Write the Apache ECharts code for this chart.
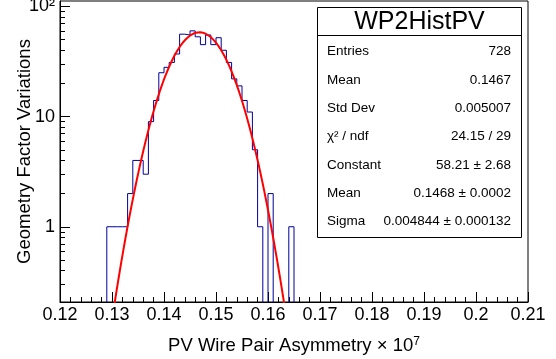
<!DOCTYPE html>
<html><head><meta charset="utf-8">
<script src="https://cdn.jsdelivr.net/npm/echarts@6/dist/echarts.min.js"></script>
<style>html,body{margin:0;padding:0;background:#fff}#c{width:556px;height:359px}</style>
</head><body><div id="c"></div>
<script>
// ---- data ----
const binLowEdges = [0.129,0.130,0.131,0.132,0.133,0.134,0.135,0.136,0.137,0.138,0.139,0.140,0.141,0.142,0.143,0.144,0.145,0.146,0.147,0.148,0.149,0.150,0.151,0.152,0.153,0.154,0.155,0.156,0.157,0.158,0.159,0.160,0.161,0.162,0.163,0.164];
const binCounts   = [1,1,1,1,2,4,4,3,9,14,25,28,31,37,56,55,60,53,45,55,45,52,40,31,22,19,14,11,5,1,0,2,0,0,0,1];
const binWidth = 0.001;
// fit parameters (from the stats box)
const fitConstant = 58.21, fitMean = 0.1468, fitSigma = 0.004844;
const xTicks = [0.12,0.13,0.14,0.15,0.16,0.17,0.18,0.19,0.2,0.21];
const yMajorTicks = [1,10,100];
const yMinorTicks = [0.3,0.4,0.5,0.6,0.7,0.8,0.9,2,3,4,5,6,7,8,9,20,30,40,50,60,70,80,90];
const statsTitle = 'WP2HistPV';
const statsLabels = ['Entries','Mean','Std Dev','χ² / ndf','Constant','Mean','Sigma'];
const statsValues = ['728','0.1467','0.005007','24.15 / 29','58.21 ± 2.68','0.1468 ± 0.0002','0.004844 ± 0.000132'];

// ---- build series ----
const FLOOR = 0.01;
const histPts = [[binLowEdges[0], FLOOR]];
binLowEdges.forEach((lo, i) => {
  const hi = +(lo + binWidth).toFixed(4);
  const c = binCounts[i] > 0 ? binCounts[i] : FLOOR;
  histPts.push([lo, c], [hi, c]);
});
histPts.push([+(binLowEdges[binLowEdges.length-1] + binWidth).toFixed(4), FLOOR]);

const fitPts = [];
for (let k = 0; k <= 900; k++) {
  const x = 0.12 + k * 0.0001;
  fitPts.push([x, fitConstant * Math.exp(-0.5 * Math.pow((x - fitMean) / fitSigma, 2))]);
}

const FONT = 'Liberation Sans, Arial, Helvetica, sans-serif';
const yMin = 0.2075, yMax = 112;

// stats box graphics
const bx = 317.5, by = 7.5, bw = 204, bh = 230, titleH = 28;
const gfx = [
  {type:'rect', shape:{x:bx, y:by, width:bw, height:bh}, style:{fill:'#fff', stroke:'#000', lineWidth:1}, z:100},
  {type:'line', shape:{x1:bx, y1:by+titleH, x2:bx+bw, y2:by+titleH}, style:{stroke:'#000', lineWidth:1}, z:101},
  {type:'text', x:bx+bw/2, y:by+titleH/2+1, style:{text:statsTitle, font:'25px ' + FONT, fill:'#000', textAlign:'center', textVerticalAlign:'middle'}, z:101}
];
statsLabels.forEach((lab, i) => {
  const yy = 51.7 + i * 28.33;
  gfx.push({type:'text', x:327, y:yy, style:{text:lab, font:'13.5px ' + FONT, fill:'#000', textAlign:'left', textVerticalAlign:'middle'}, z:101});
  gfx.push({type:'text', x:511, y:yy, style:{text:statsValues[i], font:'13.5px ' + FONT, fill:'#000', textAlign:'right', textVerticalAlign:'middle'}, z:101});
});

const chart = echarts.init(document.getElementById('c'), null, {renderer:'canvas'});
chart.setOption({
  animation: false,
  backgroundColor: '#fff',
  textStyle: {fontFamily: FONT},
  grid: {left: 60, right: 28, top: 1, bottom: 57, containLabel: false, outerBoundsMode: 'none',
         show: true, borderColor: '#000', borderWidth: 1, backgroundColor: 'transparent'},
  xAxis: {
    type: 'value', min: 0.12, max: 0.21, interval: 0.01,
    name: '{a|PV Wire Pair Asymmetry × 10}{s|7}', nameLocation: 'middle', nameGap: 34, nameMoveOverlap: false,
    nameTextStyle: {rich: {a: {fontSize: 18.5, fontFamily: FONT, color: '#000'}, s: {fontSize: 12, fontFamily: FONT, color: '#000', verticalAlign: 'top'}}},
    axisLine: {lineStyle: {color: '#000', width: 1}},
    axisTick: {inside: true, length: 10, lineStyle: {color: '#000'}},
    minorTick: {show: true, splitNumber: 5, length: 5, lineStyle: {color: '#000'}},
    axisLabel: {fontSize: 18, color: '#000', margin: 4, fontFamily: FONT, formatter: v => String(+v.toFixed(2)), customValues: xTicks},
    splitLine: {show: false}
  },
  yAxis: [{
    type: 'log', logBase: 10, min: yMin, max: yMax,
    name: 'Geometry Factor Variations', nameLocation: 'middle', nameGap: 26, nameMoveOverlap: false,
    nameTextStyle: {fontSize: 18.5, color: '#000', fontFamily: FONT},
    axisLine: {show: true, lineStyle: {color: '#000', width: 1}},
    axisTick: {inside: true, length: 10, lineStyle: {color: '#000'}, customValues: yMajorTicks},
    axisLabel: {fontSize: 18, color: '#000', margin: 5, fontFamily: FONT, customValues: yMajorTicks,
      formatter: v => (Math.abs(v - 100) < 1e-6 ? '10²' : String(Math.round(v)))},
    splitLine: {show: false}
  }, {
    type: 'log', logBase: 10, min: yMin, max: yMax, position: 'left',
    axisLine: {show: false},
    axisTick: {show: true, inside: true, length: 5, lineStyle: {color: '#000'}, customValues: yMinorTicks},
    axisLabel: {show: false},
    splitLine: {show: false}
  }],
  series: [{
    type: 'line', data: histPts, yAxisIndex: 0, showSymbol: false, symbol: 'none', clip: true, silent: true,
    lineStyle: {color: '#000099', width: 1}, z: 3
  }, {
    type: 'line', data: fitPts, yAxisIndex: 0, showSymbol: false, symbol: 'none', clip: true, silent: true, smooth: false,
    lineStyle: {color: '#ff0000', width: 2}, z: 4
  }],
  graphic: gfx
});
</script>
</body></html>
